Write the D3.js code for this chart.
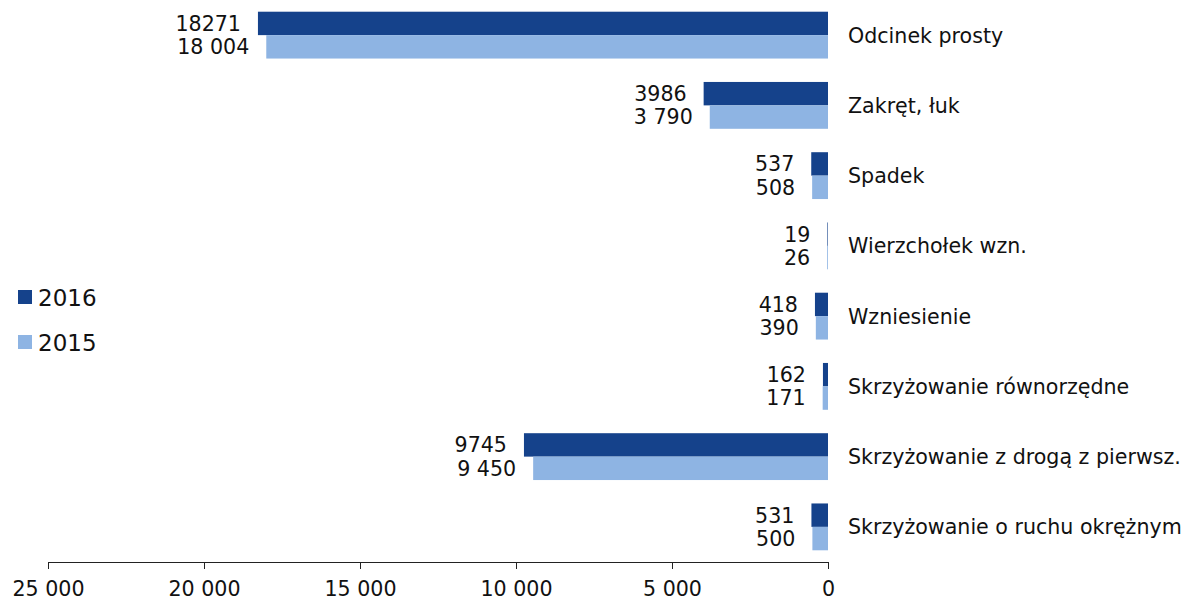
<!DOCTYPE html>
<html>
<head>
<meta charset="utf-8">
<script src="https://cdn.jsdelivr.net/npm/d3@7"></script>
<style>
  body { margin: 0; background: #fff; }
  svg text { font-family: "DejaVu Sans", Verdana, sans-serif; fill: #111; }
</style>
</head>
<body>
<svg id="chart" width="1198" height="600"></svg>
<script>
// categories and values
const categories = [
    "Odcinek prosty",
    "Zakręt, łuk",
    "Spadek",
    "Wierzchołek wzn.",
    "Wzniesienie",
    "Skrzyżowanie równorzędne",
    "Skrzyżowanie z drogą z pierwsz.",
    "Skrzyżowanie o ruchu okrężnym"
];
const values2016 = [18271, 3986, 537, 19, 418, 162, 9745, 531];
const values2015 = [18004, 3790, 508, 26, 390, 171, 9450, 500];
const seriesNames = ["2016", "2015"];
const tickValues = [0, 5000, 10000, 15000, 20000, 25000];

class BarVis {

    constructor(svg_id) {
        this.svg_id = svg_id;
        this.colors = ["#15428b", "#8eb4e3"];
        this.render();
    }
    render() {
        let svg = d3.select("#" + this.svg_id);
        let plot_bottom = 562;
        let fsize = "20.6px";

        let pl = d3.formatLocale({decimal: ",", thousands: " ", grouping: [3], currency: ["", ""]});
        let fmtSpace = pl.format(",d");
        let fmtPlain = d3.format("d");

        // x goes right-to-left
        let x = d3.scaleLinear()
            .domain([0, 25000])
            .range([828, 48]);

        let y = d3.scaleBand()
            .domain(categories)
            .range([0, plot_bottom])
            .paddingInner(1/3)
            .paddingOuter(1/6);

        let sub = d3.scaleBand()
            .domain(seriesNames)
            .range([0, y.bandwidth()]);

        let series = [values2016, values2015];
        let thisvis = this;

        let rows = svg.selectAll(".row_g")
            .data(categories)
            .enter().append("g")
            .attr("class", "row_g")
            .attr("transform", function(d) {return "translate(0," + y(d) + ")";});

        rows.each(function(cat, i) {
            let g = d3.select(this);
            series.forEach(function(vals, s) {
                let v = vals[i];
                let yy = sub(seriesNames[s]);
                g.append("rect")
                    .attr("x", x(v))
                    .attr("y", yy)
                    .attr("width", x(0) - x(v))
                    .attr("height", sub.bandwidth())
                    .style("fill", thisvis.colors[s]);
                g.append("text")
                    .attr("x", x(v) - 17)
                    .attr("y", yy + sub.bandwidth() / 2)
                    .attr("dy", "0.36em")
                    .attr("text-anchor", "end")
                    .style("font-size", fsize)
                    .text(s === 0 ? fmtPlain(v) : fmtSpace(v));
            });
            g.append("text")
                .attr("x", 848)
                .attr("y", y.bandwidth() / 2)
                .attr("dy", "0.36em")
                .style("font-size", fsize)
                .text(cat);
        });

        // axis
        let axis = d3.axisBottom(x)
            .tickValues(tickValues)
            .tickSize(7)
            .tickFormat(fmtSpace);

        let ax = svg.append("g")
            .attr("transform", "translate(0," + plot_bottom + ")")
            .call(axis);
        ax.select(".domain").attr("stroke", "#222");
        ax.selectAll(".tick line").attr("stroke", "#222");
        ax.selectAll(".tick text")
            .attr("y", 34)
            .attr("dy", null)
            .style("font-size", fsize)
            .style("font-family", "\"DejaVu Sans\", Verdana, sans-serif")
            .attr("fill", "#111");

        // legend
        let legend = svg.selectAll(".legend_g")
            .data(seriesNames)
            .enter().append("g")
            .attr("class", "legend_g")
            .attr("transform", function(d, i) {return "translate(18," + (290 + i * 45) + ")";});
        legend.append("rect")
            .attr("width", 14)
            .attr("height", 14)
            .style("fill", function(d, i) {return thisvis.colors[i];});
        legend.append("text")
            .attr("x", 20)
            .attr("y", 16)
            .style("font-size", "23px")
            .text(function(d) {return d;});
    }
}

new BarVis("chart");
</script>
</body>
</html>
